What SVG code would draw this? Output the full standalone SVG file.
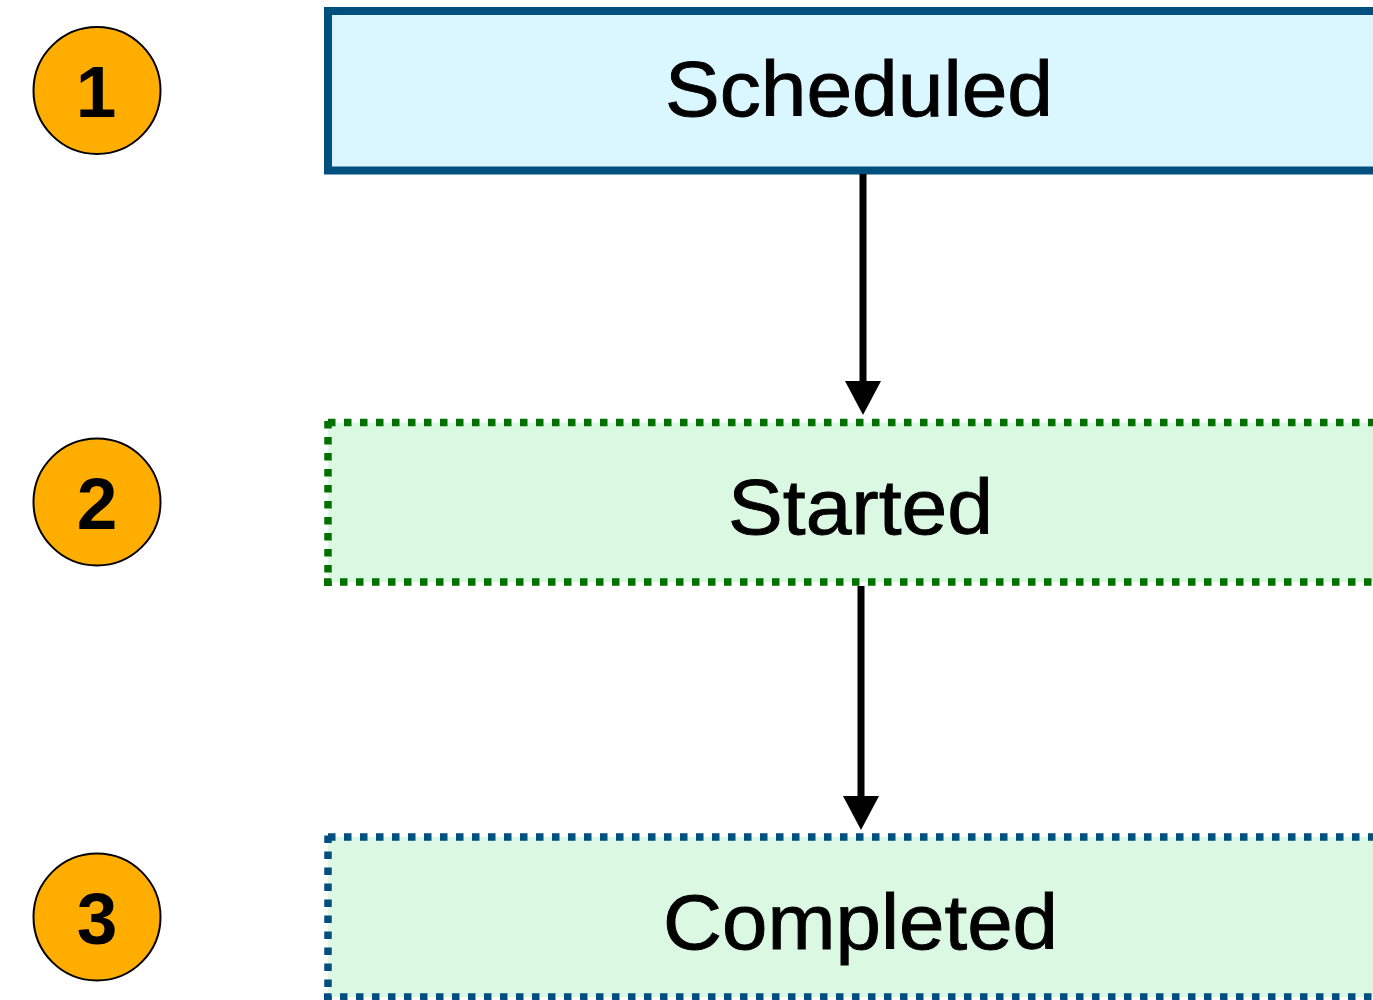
<svg xmlns="http://www.w3.org/2000/svg" width="1373" height="1000" viewBox="0 0 1373 1000">
  <style>
    .lbl { font-family: "Liberation Sans", Arial, Helvetica, sans-serif; font-size: 77px; fill: #000; stroke: #000; stroke-width: 0.9; text-anchor: middle; }
    .num { font-family: "Liberation Sans", Arial, Helvetica, sans-serif; font-size: 73px; font-weight: bold; fill: #000; text-anchor: middle; }
    .badge { fill: #ffae00; stroke: #000; stroke-width: 2; }
    .dotg { stroke: #007000; stroke-width: 7.5; stroke-dasharray: 7.5 8.5; fill: none; }
    .dotb { stroke: #004f80; stroke-width: 7.5; stroke-dasharray: 7.5 8.5; fill: none; }
    .conn { stroke: #000; stroke-width: 7; fill: none; }
  </style>
  <defs>
    <marker id="arrow" viewBox="0 0 34 36" refX="2" refY="18" markerWidth="34" markerHeight="36" markerUnits="userSpaceOnUse" orient="auto">
      <path d="M0,0 L34,18 L0,36 Z" fill="#000"/>
    </marker>
  </defs>
  <rect width="1373" height="1000" fill="#ffffff"/>

  <g id="badge-1">
    <circle class="badge" cx="97" cy="90.5" r="63.5"/>
    <text class="num" x="96" y="117">1</text>
  </g>
  <g id="badge-2">
    <circle class="badge" cx="97" cy="502" r="63.5"/>
    <text class="num" x="97" y="529">2</text>
  </g>
  <g id="badge-3">
    <circle class="badge" cx="97" cy="917" r="63.5"/>
    <text class="num" x="97" y="944">3</text>
  </g>

  <g id="node-scheduled">
    <rect x="328" y="11" width="1064" height="159.5" fill="#daf6ff" stroke="#00507f" stroke-width="8"/>
    <text class="lbl" x="859" y="116" textLength="388" lengthAdjust="spacingAndGlyphs">Scheduled</text>
  </g>

  <g id="node-started">
    <rect x="328" y="422.5" width="1064" height="159.5" fill="#dbf8e2"/>
    <line class="dotg" x1="328" y1="422.5" x2="1392" y2="422.5"/>
    <line class="dotg" x1="324" y1="582" x2="1392" y2="582"/>
    <line class="dotg" x1="328" y1="421" x2="328" y2="586"/>
    <text class="lbl" x="860.5" y="534" font-size="79" textLength="265" lengthAdjust="spacingAndGlyphs">Started</text>
  </g>

  <g id="node-completed">
    <rect x="328" y="837" width="1064" height="160" fill="#dbf8e2"/>
    <line class="dotb" x1="328" y1="837" x2="1392" y2="837"/>
    <line class="dotb" x1="324" y1="997" x2="1392" y2="997"/>
    <line class="dotb" x1="328" y1="835.5" x2="328" y2="1001"/>
    <text class="lbl" x="860.5" y="949" textLength="395" lengthAdjust="spacingAndGlyphs">Completed</text>
  </g>

  <g id="connectors">
    <line class="conn" x1="863" y1="174" x2="863" y2="383" marker-end="url(#arrow)"/>
    <line class="conn" x1="861" y1="586" x2="861" y2="798" marker-end="url(#arrow)"/>
  </g>
</svg>
